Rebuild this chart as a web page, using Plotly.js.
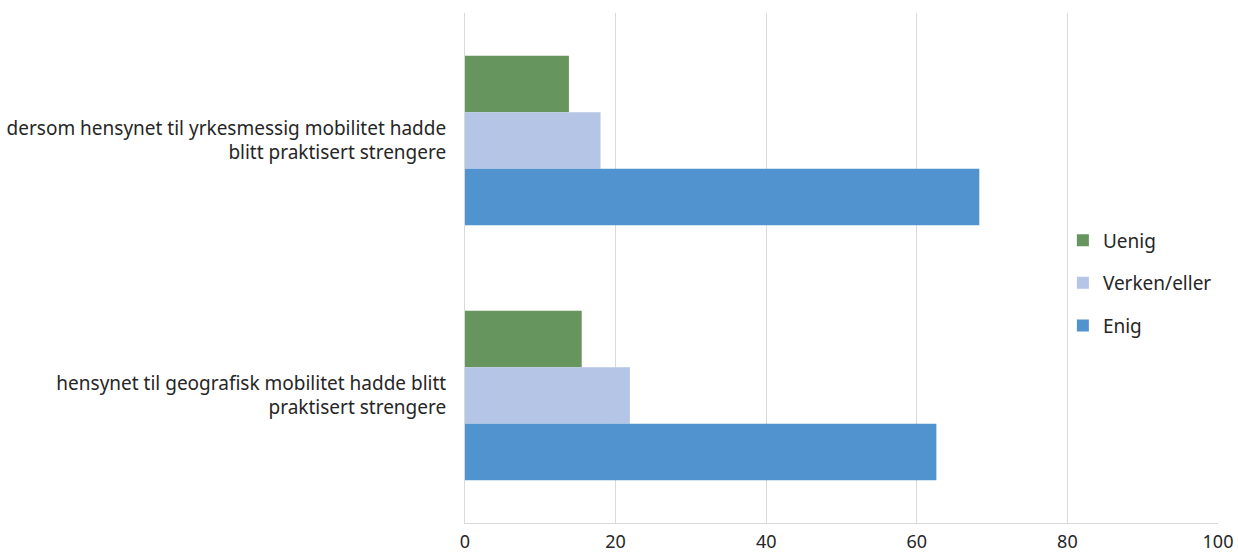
<!DOCTYPE html>
<html>
<head>
<meta charset="utf-8">
<script src="https://cdn.plot.ly/plotly-3.0.1.min.js"></script>
<style>html,body{margin:0;padding:0;background:#fff}#chart{width:1238px;height:558px}</style>
</head>
<body>
<div id="chart"></div>
<script>
// Categories listed top-to-bottom (y axis is reversed)
const categories = [
  "dersom hensynet til yrkesmessig mobilitet hadde<br>blitt praktisert strengere",
  "hensynet til geografisk mobilitet hadde blitt<br>praktisert strengere"
];
const seriesNames = ["Uenig", "Verken/eller", "Enig"];
const uenig = [13.8, 15.5];
const verken = [18.0, 21.9];
const enig = [68.3, 62.6];
const xTicks = [0, 20, 40, 60, 80, 100];

const colors = {"Enig": "#5093CF", "Verken/eller": "#B4C5E6", "Uenig": "#66965E"};
const values = {"Enig": enig, "Verken/eller": verken, "Uenig": uenig};

const traces = seriesNames.map(name => ({
  type: "bar",
  orientation: "h",
  name: name,
  legendgroup: name,
  x: values[name],
  y: categories,
  marker: {color: colors[name]},
  hoverinfo: "x+name"
}));

const layout = {
  width: 1238, height: 558,
  margin: {l: 465, r: 20, t: 13, b: 35},
  paper_bgcolor: "#fff", plot_bgcolor: "#fff",
  font: {family: "Noto Sans, sans-serif", size: 19, color: "#262626"},
  barmode: "group",
  bargap: 0.335,
  bargroupgap: 0,
  xaxis: {
    range: [0, 100],
    tickvals: xTicks,
    ticktext: xTicks.map(String),
    showgrid: true, gridcolor: "#D9D9D9", gridwidth: 1,
    zeroline: false,
    showline: true, linecolor: "#D9D9D9", linewidth: 1,
    ticks: "outside", ticklen: 2, tickcolor: "rgba(0,0,0,0)",
    tickfont: {size: 18, color: "#262626"},
    fixedrange: true
  },
  yaxis: {
    type: "category",
    categoryorder: "array", categoryarray: categories,
    autorange: "reversed",
    showgrid: false, zeroline: false,
    showline: true, linecolor: "#D9D9D9", linewidth: 1,
    ticks: "outside", ticklen: 14, tickcolor: "rgba(0,0,0,0)",
    tickfont: {size: 19, color: "#262626"},
    fixedrange: true
  },
  showlegend: true,
  legend: {
    x: 0.794, xanchor: "left",
    y: 0.47, yanchor: "middle",
    traceorder: "grouped",
    tracegroupgap: 15,
    font: {size: 19, color: "#262626"},
    bgcolor: "rgba(255,255,255,0)"
  }
};

Plotly.newPlot("chart", traces, layout, {displayModeBar: false, staticPlot: true});
</script>
</body>
</html>
